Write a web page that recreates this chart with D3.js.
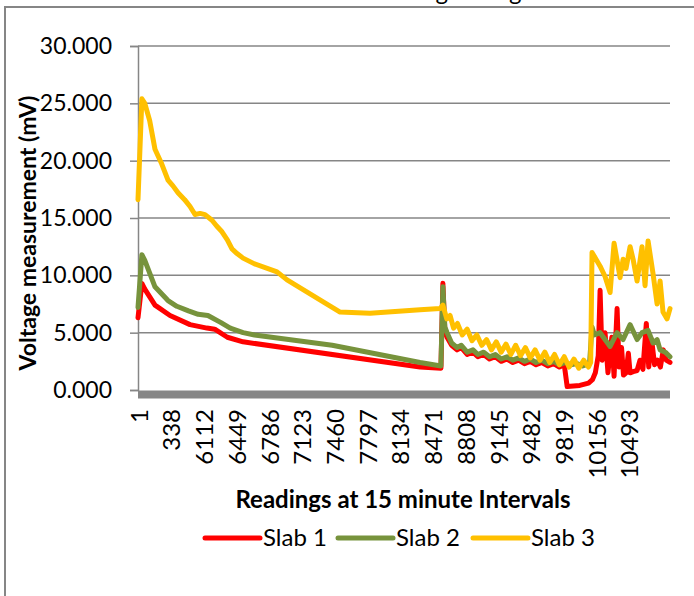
<!DOCTYPE html>
<html>
<head>
<meta charset="utf-8">
<script src="https://cdn.jsdelivr.net/npm/d3@7"></script>
<style>
  body { margin: 0; background: #fff; }
  svg { display: block; }
  text { font-family: Lato, "Open Sans", sans-serif; fill: #000; }
</style>
</head>
<body>
<svg id="chart" width="694" height="596"></svg>
<script>
// readings on the category axis (every 337th reading is labelled)
const readingCount = 5480;
const labelStep = 337;
const tickLabels = ["1", "338", "6112", "6449", "6786", "7123", "7460", "7797",
    "8134", "8471", "8808", "9145", "9482", "9819", "10156", "10493"];
const yTicks = [0, 5, 10, 15, 20, 25, 30];
const seriesNames = ["Slab 1", "Slab 2", "Slab 3"];
const seriesColors = ["#ff0000", "#77933c", "#ffc000"];

// [reading index, mV]
const slab1 = [[0,6.3],[40,9.3],[70,8.8],[175,7.4],[330,6.5],[536,5.7],[710,5.4],[790,5.3],[920,4.6],[1082,4.2],
    [2905,2.0],[3120,1.9],[3140,9.3],[3160,5.2],[3183,4.6],[3230,3.9],[3286,3.5],[3330,3.7],[3390,3.1],[3450,3.3],
    [3500,2.9],[3560,3.1],[3620,2.7],[3680,2.9],[3740,2.5],[3800,2.7],[3860,2.4],[3920,2.6],[3980,2.3],[4040,2.5],
    [4100,2.2],[4160,2.4],[4220,2.1],[4280,2.3],[4340,2.0],[4390,2.2],[4420,0.3],[4550,0.4],[4640,0.6],[4680,0.9],
    [4710,1.5],[4740,3.0],[4759,8.7],[4780,2.6],[4810,5.0],[4840,1.5],[4880,4.6],[4903,1.2],[4934,7.1],[4955,2.0],
    [4980,3.7],[5000,1.3],[5026,1.5],[5050,3.2],[5068,1.5],[5100,1.6],[5140,1.7],[5170,2.6],[5200,1.8],[5235,5.8],
    [5260,2.0],[5290,4.4],[5320,2.2],[5350,2.6],[5380,2.0],[5410,3.5],[5440,2.6],[5479,2.4]];

const slab2 = [[0,7.2],[40,11.8],[70,11.3],[175,9.0],[309,7.8],[400,7.3],[520,6.9],[620,6.6],[720,6.5],[850,5.9],
    [950,5.4],[1082,5.0],[1200,4.8],[2000,3.9],[2905,2.4],[3120,2.1],[3140,9.0],[3160,5.5],[3183,5.0],[3230,4.1],
    [3286,3.7],[3330,3.9],[3390,3.3],[3450,3.5],[3500,3.1],[3560,3.3],[3620,2.9],[3680,3.1],[3740,2.7],[3800,2.9],
    [3860,2.6],[3920,2.8],[3980,2.5],[4040,2.7],[4100,2.4],[4160,2.6],[4220,2.3],[4280,2.5],[4340,2.2],[4400,2.4],
    [4460,2.2],[4520,2.3],[4580,2.1],[4650,2.3],[4676,5.5],[4700,4.8],[4759,5.0],[4862,3.8],[4934,5.0],[4996,4.4],
    [5068,5.7],[5140,4.4],[5191,5.0],[5253,5.2],[5305,4.1],[5346,4.4],[5377,3.5],[5430,3.3],[5479,2.9]];

const slab3 = [[0,16.6],[40,25.4],[70,25.0],[120,23.5],[175,21.0],[240,19.8],[309,18.3],[360,17.8],[412,17.2],[480,16.6],
    [536,16.0],[587,15.3],[640,15.4],[690,15.3],[762,14.8],[810,14.3],[865,13.8],[920,13.1],[968,12.3],[1020,11.9],
    [1082,11.5],[1200,11.0],[1432,10.3],[1535,9.6],[2081,6.8],[2200,6.75],[2390,6.7],[2905,7.0],[3111,7.1],[3140,7.4],
    [3180,6.2],[3214,6.5],[3250,5.4],[3290,5.8],[3340,4.8],[3390,5.3],[3440,4.3],[3490,4.8],[3540,3.9],[3590,4.4],
    [3640,3.5],[3690,4.2],[3740,3.3],[3790,4.0],[3840,3.1],[3890,3.9],[3940,3.0],[3990,3.7],[4040,2.8],[4090,3.5],
    [4140,2.6],[4190,3.3],[4240,2.4],[4290,3.1],[4340,2.2],[4390,2.9],[4440,2.0],[4490,2.7],[4540,1.9],[4590,2.6],
    [4640,2.0],[4662,2.4],[4676,12.0],[4759,10.8],[4810,9.9],[4862,8.5],[4903,12.8],[4965,9.8],[4996,11.4],[5026,10.6],
    [5068,12.5],[5099,11.4],[5140,9.5],[5191,12.5],[5222,9.1],[5253,13.0],[5305,10.1],[5346,7.5],[5377,9.5],[5407,6.8],
    [5449,6.2],[5479,7.1]];

const svg = d3.select("#chart");
const grey = "#868686";

// chart frame (cut off at right and bottom)
svg.append("rect")
    .attr("x", 5).attr("y", 7)
    .attr("width", 900).attr("height", 900)
    .attr("fill", "none")
    .attr("stroke", grey)
    .attr("stroke-width", 2);

// title above the frame, only its descenders remain visible
svg.append("text")
    .attr("x", 364).attr("y", 0)
    .style("font-size", "24px")
    .text("Readings along");

const x = d3.scaleLinear().domain([0, readingCount - 1]).range([138, 670]);
const y = d3.scaleLinear().domain([0, 30]).range([390, 46]);

// ── Gridlines ──
svg.append("g")
    .selectAll("line")
    .data(yTicks.filter(d => d > 0))
    .join("line")
    .attr("x1", 138).attr("x2", 670)
    .attr("y1", d => y(d)).attr("y2", d => y(d))
    .attr("stroke", grey)
    .attr("stroke-width", 1.5);

// ── Y axis ──
const yAxis = svg.append("g")
    .attr("transform", "translate(138,0)")
    .call(d3.axisLeft(y).tickValues(yTicks).tickSize(8).tickPadding(18).tickFormat(d3.format(".3f")));
yAxis.select(".domain").attr("stroke", grey).attr("stroke-width", 1.5);
yAxis.selectAll(".tick line").attr("stroke", grey).attr("stroke-width", 1.5);
yAxis.selectAll(".tick text")
    .style("font-size", "23px")
    .style("font-family", "Lato, 'Open Sans', sans-serif")
    .attr("fill", "#000");

// ── Series ──
const line = d3.line()
    .x(d => x(d[0]))
    .y(d => y(d[1]));

[slab1, slab2, slab3].forEach((series, i) => {
    svg.append("path")
        .datum(series)
        .attr("d", line)
        .attr("fill", "none")
        .attr("stroke", seriesColors[i])
        .attr("stroke-width", 5)
        .attr("stroke-linejoin", "round")
        .attr("stroke-linecap", "round");
});

// ── X axis (thick grey band) ──
svg.append("line")
    .attr("x1", 138).attr("x2", 670)
    .attr("y1", 394.5).attr("y2", 394.5)
    .attr("stroke", grey)
    .attr("stroke-width", 8);

svg.append("g")
    .selectAll("text")
    .data(tickLabels)
    .join("text")
    .attr("transform", (d, i) => `translate(${x(i * labelStep) + 1},409) rotate(-90)`)
    .attr("text-anchor", "end")
    .attr("dy", "0.36em")
    .style("font-size", "24px")
    .text(d => d);

// ── Axis titles ──
svg.append("text")
    .attr("x", 403).attr("y", 508)
    .attr("text-anchor", "middle")
    .style("font-size", "24px")
    .style("font-weight", "bold")
    .text("Readings at 15 minute Intervals");

svg.append("text")
    .attr("transform", "translate(36,233) rotate(-90)")
    .attr("text-anchor", "middle")
    .style("font-size", "23px")
    .style("font-weight", "bold")
    .text("Voltage measurement (mV)");

// ── Legend ──
const legendX = [205, 338, 473];
const legend = svg.append("g")
    .selectAll("g")
    .data(seriesNames)
    .join("g")
    .attr("transform", (d, i) => `translate(${legendX[i]},538)`);

legend.append("line")
    .attr("x1", 0).attr("x2", 55)
    .attr("stroke", (d, i) => seriesColors[i])
    .attr("stroke-width", 5)
    .attr("stroke-linecap", "round");

legend.append("text")
    .attr("x", 58).attr("y", 8)
    .style("font-size", "24px")
    .text(d => d);
</script>
</body>
</html>
